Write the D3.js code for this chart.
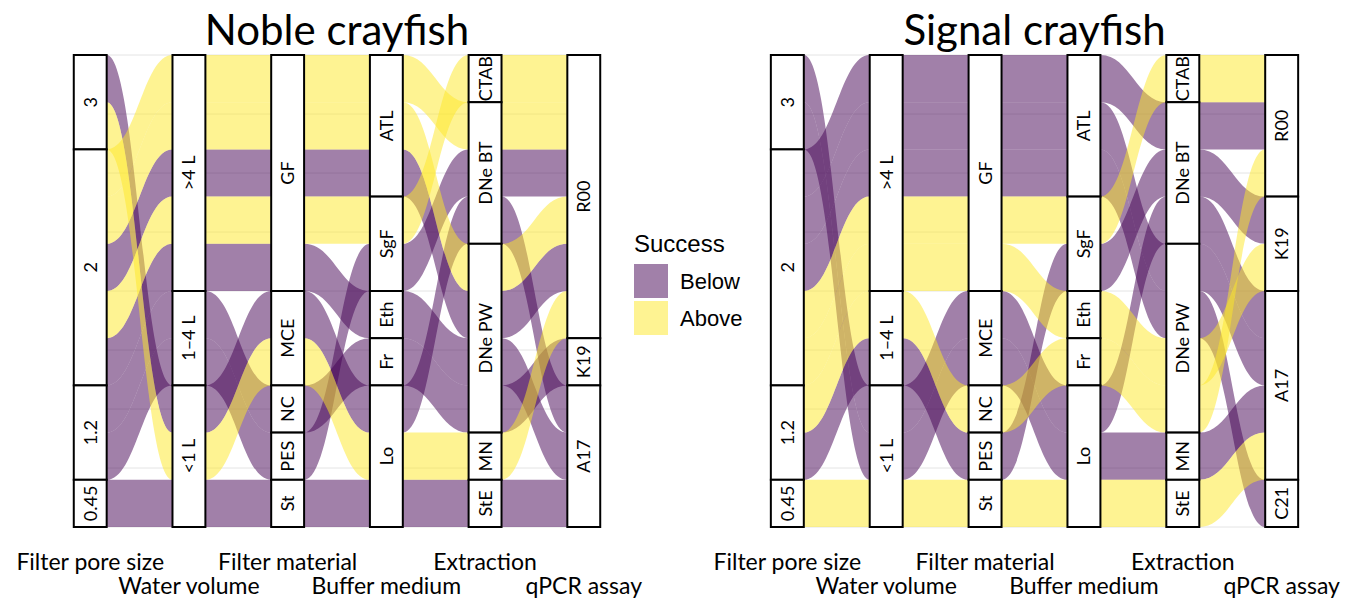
<!DOCTYPE html>
<html>
<head>
<meta charset="utf-8">
<script src="https://cdn.jsdelivr.net/npm/d3@7"></script>
<style>
  body { margin: 0; background: #fff; }
  svg text { font-family: Lato, "Open Sans", sans-serif; fill: #000; }
  svg .legend text { font-family: "Liberation Sans", Arial, sans-serif; }
</style>
</head>
<body>
<svg id="chart" width="1349" height="598"></svg>
<script>
// Axes and their strata (top to bottom)
const axisNames = ['Filter pore size', 'Water volume', 'Filter material', 'Buffer medium', 'Extraction', 'qPCR assay'];
const poreLevels = ['3', '2', '1.2', '0.45'];
const volumeLevels = ['>4 L', '1–4 L', '<1 L'];
const materialLevels = ['GF', 'MCE', 'NC', 'PES', 'St'];
const bufferLevels = ['ATL', 'SgF', 'Eth', 'Fr', 'Lo'];
const extractionLevels = ['CTAB', 'DNe BT', 'DNe PW', 'MN', 'StE'];
const nobleAssayLevels = ['R00', 'K19', 'A17'];
const signalAssayLevels = ['R00', 'K19', 'A17', 'C21'];
const successLevels = ['Below', 'Above'];

// One entry per tested protocol
const pore = ['3', '3', '2', '2', '2', '2', '2', '1.2', '1.2', '0.45'];
const volume = ['<1 L', '<1 L', '>4 L', '>4 L', '>4 L', '>4 L', '>4 L', '1–4 L', '1–4 L', '<1 L'];
const material = ['MCE', 'MCE', 'GF', 'GF', 'GF', 'GF', 'GF', 'NC', 'PES', 'St'];
const buffer = ['Lo', 'Lo', 'ATL', 'ATL', 'SgF', 'ATL', 'Eth', 'Fr', 'SgF', 'Lo'];
const extraction = ['DNe BT', 'MN', 'DNe BT', 'DNe PW', 'CTAB', 'DNe PW', 'DNe PW', 'DNe PW', 'DNe BT', 'StE'];

const nobleAssay = ['A17', 'R00', 'R00', 'R00', 'R00', 'R00', 'A17', 'K19', 'R00', 'A17'];
const nobleSuccess = ['Below', 'Above', 'Above', 'Above', 'Above', 'Below', 'Below', 'Below', 'Below', 'Below'];
const signalAssay = ['A17', 'A17', 'R00', 'A17', 'R00', 'C21', 'K19', 'R00', 'K19', 'A17'];
const signalSuccess = ['Below', 'Below', 'Below', 'Below', 'Above', 'Below', 'Above', 'Above', 'Below', 'Above'];

const gridBreaks = [0, 1.25, 2.5, 3.75, 5, 6.25, 7.5, 8.75, 10];

// which neighbouring axis each axis looks at first when stacking its lodes (+1 right, -1 left)
const guidance = [1, 1, 1, 1, -1, -1];

const color = d3.scaleOrdinal(successLevels, ['#440154', '#FDE725']);
const svg = d3.select('#chart');

// zigzag outward from axis i
function zigzag(i, n) {
  const dir = guidance[i];
  const out = [];
  for (let d = 1; d < n; d++) {
    [i + dir * d, i - dir * d].forEach((j) => {
      if (j >= 0 && j < n) out.push(j);
    });
  }
  return out;
}

// stack the lodes of every stratum, ordered by the strata at the other axes
function stackLodes(columns, levels) {
  const total = columns[0].length;
  const pos = columns.map(() => new Array(total));
  const strata = [];
  columns.forEach((col, i) => {
    const keys = zigzag(i, columns.length);
    const rank = (j, p) => levels[j].indexOf(columns[j][p]);
    let offset = 0;
    levels[i].forEach((level) => {
      const members = d3.range(total).filter((p) => col[p] === level);
      members.sort((a, b) => {
        for (const j of keys) {
          const diff = rank(j, a) - rank(j, b);
          if (diff) return diff;
        }
        return a - b;
      });
      members.forEach((p, k) => { pos[i][p] = offset + k; });
      strata.push({ axis: i, level, from: offset, to: offset + members.length });
      offset += members.length;
    });
  });
  return { pos, strata, total };
}

function drawPanel(opts) {
  const columns = [pore, volume, material, buffer, extraction, opts.assay];
  const levels = [poreLevels, volumeLevels, materialLevels, bufferLevels, extractionLevels, opts.assayLevels];
  const { pos, strata, total } = stackLodes(columns, levels);

  const x = d3.scalePoint().domain(d3.range(axisNames.length)).range(opts.xRange).padding(0.6);
  const y = d3.scaleLinear().domain([0, total]).range([55, 527]);
  const w = x.step() / 3;
  const g = svg.append('g');

  // faint horizontal grid
  g.append('g')
    .selectAll('line')
    .data(gridBreaks)
    .join('line')
    .attr('x1', x(0) - w / 2)
    .attr('x2', x(axisNames.length - 1) + w / 2)
    .attr('y1', (d) => y(total - d))
    .attr('y2', (d) => y(total - d))
    .attr('stroke', '#e4e4e4')
    .attr('stroke-width', 1);

  // alluvia, one polygon each
  const k = 0.45;
  function alluviumPath(p) {
    const path = d3.path();
    const n = columns.length;
    const top = (i) => y(pos[i][p]);
    const bot = (i) => y(pos[i][p] + 1);
    path.moveTo(x(0) - w / 2, top(0));
    path.lineTo(x(0) + w / 2, top(0));
    for (let i = 1; i < n; i++) {
      const a = x(i - 1) + w / 2;
      const b = x(i) - w / 2;
      path.bezierCurveTo(a + (b - a) * k, top(i - 1), b - (b - a) * k, top(i), b, top(i));
      path.lineTo(x(i) + w / 2, top(i));
    }
    path.lineTo(x(n - 1) + w / 2, bot(n - 1));
    path.lineTo(x(n - 1) - w / 2, bot(n - 1));
    for (let i = n - 1; i > 0; i--) {
      const a = x(i - 1) + w / 2;
      const b = x(i) - w / 2;
      path.bezierCurveTo(b - (b - a) * k, bot(i), a + (b - a) * k, bot(i - 1), a, bot(i - 1));
      path.lineTo(x(i - 1) - w / 2, bot(i - 1));
    }
    path.closePath();
    return path.toString();
  }

  const order = d3.range(total).sort((a, b) =>
    successLevels.indexOf(opts.success[a]) - successLevels.indexOf(opts.success[b]) || a - b);

  g.append('g')
    .selectAll('path')
    .data(order)
    .join('path')
    .attr('d', alluviumPath)
    .attr('fill', (p) => color(opts.success[p]))
    .attr('fill-opacity', 0.5);

  // strata boxes
  const boxes = g.append('g')
    .selectAll('g')
    .data(strata)
    .join('g');

  boxes.append('rect')
    .attr('x', (d) => x(d.axis) - w / 2)
    .attr('y', (d) => y(d.from))
    .attr('width', w)
    .attr('height', (d) => y(d.to) - y(d.from))
    .attr('fill', '#fff')
    .attr('stroke', '#000')
    .attr('stroke-width', 2);

  boxes.append('text')
    .attr('transform', (d) => `translate(${x(d.axis)},${(y(d.from) + y(d.to)) / 2})rotate(-90)`)
    .attr('text-anchor', 'middle')
    .attr('dy', '0.36em')
    .attr('font-size', 18)
    .text((d) => d.level);

  // axis names on two alternating rows
  g.append('g')
    .selectAll('text')
    .data(axisNames)
    .join('text')
    .attr('x', (d, i) => x(i))
    .attr('y', (d, i) => (i % 2 === 0 ? 570 : 594))
    .attr('text-anchor', 'middle')
    .attr('font-size', 23)
    .text((d) => d);

  g.append('text')
    .attr('x', (x(0) + x(axisNames.length - 1)) / 2)
    .attr('y', 45)
    .attr('text-anchor', 'middle')
    .attr('font-size', 42)
    .text(opts.title);
}

drawPanel({ title: 'Noble crayfish', assay: nobleAssay, assayLevels: nobleAssayLevels, success: nobleSuccess, xRange: [31, 643] });
drawPanel({ title: 'Signal crayfish', assay: signalAssay, assayLevels: signalAssayLevels, success: signalSuccess, xRange: [728, 1341] });

// legend
const legend = svg.append('g').attr('class', 'legend').attr('transform', 'translate(634,252)');
legend.append('text').attr('font-size', 24).text('Success');
const items = legend.selectAll('g.item')
  .data(successLevels)
  .join('g')
  .attr('class', 'item')
  .attr('transform', (d, i) => `translate(0,${12 + i * 37})`);
items.append('rect')
  .attr('width', 34)
  .attr('height', 34)
  .attr('fill', (d) => color(d))
  .attr('fill-opacity', 0.5);
items.append('text')
  .attr('x', 46)
  .attr('y', 25)
  .attr('font-size', 22)
  .text((d) => d);
</script>
</body>
</html>
